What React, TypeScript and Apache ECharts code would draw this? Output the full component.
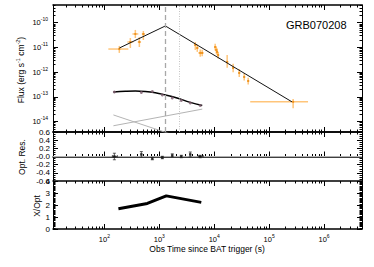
import React, { useEffect, useRef } from 'react';
import * as echarts from 'echarts';

const FONT = '"Liberation Sans", Arial, Helvetica, sans-serif';
const L = Math.log10;

// ---- X-ray (orange) flux points ----
const xrtTime = [187, 297, 366, 433, 512, 4520, 4910, 5560, 6030, 10400, 10900, 11300, 11800, 17200, 22100, 28500, 35100, 41500, 273000];
const xrtFlux = [8.6e-12, 1.66e-11, 3.5e-11, 1.66e-11, 3.5e-11, 1.26e-11, 9.5e-12, 6.0e-12, 6.0e-12, 1.04e-11, 7.9e-12, 6.6e-12, 4.9e-12, 2.6e-12, 1.48e-12, 9.3e-13, 6.4e-13, 4.4e-13, 6.3e-14];
const xrtTimeLo = [118, 262, 324, 405, 480, 4300, 4700, 5120, 5750, 10000, 10500, 10900, 11400, 16500, 21200, 27300, 33700, 39800, 45200];
const xrtTimeHi = [273, 336, 415, 465, 548, 4750, 5150, 6310, 6350, 10800, 11300, 11700, 12200, 18000, 23000, 29700, 36500, 43200, 510000];
const xrtFluxLo = [6.0e-12, 9.5e-12, 2.4e-11, 1.04e-11, 2.0e-11, 7.9e-12, 6.6e-12, 4.2e-12, 4.4e-12, 7.5e-12, 5.6e-12, 4.8e-12, 3.6e-12, 1.5e-12, 1.0e-12, 6.4e-13, 4.6e-13, 3.2e-13, 3.5e-14];
const xrtFluxHi = [1.15e-11, 2.4e-11, 5.1e-11, 2.6e-11, 4.6e-11, 1.66e-11, 1.3e-11, 8.3e-12, 8.0e-12, 1.4e-11, 1.1e-11, 9.0e-12, 6.6e-12, 4.9e-12, 2.2e-12, 1.35e-12, 9.0e-13, 6.0e-13, 8.3e-14];

// ---- Optical points and residuals ----
const optTime = [152, 471, 746, 1135, 1722, 2512, 3660, 5560];
const optFlux = [1.58e-13, 1.51e-13, 1.66e-13, 1.2e-13, 9.1e-14, 7.2e-14, 5.7e-14, 4.5e-14];
const optTimeLo = [140, 471, 746, 1135, 1722, 2512, 3660, 5120];
const optTimeHi = [172, 471, 746, 1135, 1722, 2512, 3660, 6310];
const optResidual = [0.0, 0.05, -0.05, -0.025, 0.025, 0.0, 0.05, 0.0];
const optResErr = [0.08, 0.07, 0.03, 0.03, 0.04, 0.03, 0.06, 0.03];

// ---- Models ----
const xrayModelTime = [188, 1290, 260000];
const xrayModelFlux = [9.5e-12, 7.4e-11, 6.3e-14];
const optModelTime = [146, 241, 366, 556, 845, 1285, 1954, 3660, 6050];
const optModelFlux = [1.58e-13, 1.69e-13, 1.74e-13, 1.66e-13, 1.47e-13, 1.2e-13, 9.5e-14, 6.0e-14, 4.5e-14];
const compDecayTime = [146, 6050];
const compDecayFlux = [1.86e-14, 1.17e-15];
const compRiseTime = [146, 6050];
const compRiseFlux = [6.8e-15, 3.2e-14];

// ---- X/Opt ratio ----
const ratioTime = [180, 605, 1340, 5810];
const ratioValue = [1.69, 2.13, 2.76, 2.22];

// ---- reference lines ----
const peakTime = 1290;
const dottedTime = 2300;

// ---- axes ----
const timeRange = [11.6, 4.9e6];
const fluxRange = [3.8e-15, 5.2e-10];
const xTickExponents = [2, 3, 4, 5, 6];
const yTickExponents = [-14, -13, -12, -11, -10];

const X_MIN = L(timeRange[0]);
const X_MAX = L(timeRange[1]);
const Y_MIN = L(fluxRange[0]);
const Y_MAX = L(fluxRange[1]);

function minorLogs(lo: number, hi: number) {
  const out: number[] = [];
  for (let n = Math.floor(lo) - 1; n <= Math.ceil(hi); n++) {
    for (let k = 2; k <= 9; k++) {
      const v = n + L(k);
      if (v > lo && v < hi) out.push(v);
    }
  }
  return out;
}
const xMinor = minorLogs(X_MIN, X_MAX);
const yMinor = minorLogs(Y_MIN, Y_MAX);

const supRich = {
  b: { fontSize: 7.5, fontFamily: FONT, color: '#000' },
  s: { fontSize: 5, fontFamily: FONT, color: '#000', padding: [0, 0, 7, 0] },
};

const BLACK = '#000';

function xAxesFor(gridIndex: number, labels: boolean) {
  const base: any = { type: 'value', gridIndex, min: X_MIN, max: X_MAX, splitLine: { show: false } };
  const major = (pos: string, withLabel: boolean) => ({
    ...base,
    position: pos,
    axisLine: { show: true, lineStyle: { color: BLACK, width: 1.5 } },
    axisTick: { show: true, inside: true, length: 5, customValues: xTickExponents, lineStyle: { color: BLACK, width: 1 } },
    axisLabel: withLabel
      ? {
          show: true,
          customValues: xTickExponents,
          margin: 4,
          formatter: (v: number) => `{b|10}{s|${Math.round(v)}}`,
          rich: supRich,
        }
      : { show: false },
  });
  const minor = (pos: string) => ({
    ...base,
    position: pos,
    axisLine: { show: false },
    axisTick: { show: true, inside: true, length: 2.5, customValues: xMinor, lineStyle: { color: BLACK, width: 1 } },
    axisLabel: { show: false },
  });
  return [major('bottom', labels), minor('bottom'), major('top', false), minor('top')];
}

function linYAxes(gridIndex: number, min: number, max: number, interval: number, minorSplit: number, fmt: (v: number) => string) {
  const mk = (pos: string, withLabel: boolean) => ({
    type: 'value',
    gridIndex,
    position: pos,
    min,
    max,
    interval,
    splitLine: { show: false },
    axisLine: { show: true, lineStyle: { color: BLACK, width: 1 } },
    axisTick: { show: true, inside: true, length: 5, lineStyle: { color: BLACK } },
    minorTick: { show: true, splitNumber: minorSplit, length: 2.5, lineStyle: { color: BLACK } },
    minorSplitLine: { show: false },
    axisLabel: withLabel
      ? {
          show: true, margin: 3, fontSize: 8, lineHeight: 8, fontFamily: FONT, color: BLACK, formatter: fmt,
          showMinLabel: true, showMaxLabel: true,
        }
      : { show: false },
  });
  return [mk('left', true), mk('right', false)];
}

function logYAxes() {
  const base: any = { type: 'value', gridIndex: 0, min: Y_MIN, max: Y_MAX, splitLine: { show: false } };
  const major = (pos: string, withLabel: boolean) => ({
    ...base,
    position: pos,
    axisLine: { show: true, lineStyle: { color: BLACK, width: 1 } },
    axisTick: { show: true, inside: true, length: 5, customValues: yTickExponents, lineStyle: { color: BLACK } },
    axisLabel: withLabel
      ? {
          show: true,
          customValues: yTickExponents,
          margin: 5,
          formatter: (v: number) => `{b|10}{s|${Math.round(v)}}`,
          rich: supRich,
        }
      : { show: false },
  });
  const minor = (pos: string) => ({
    ...base,
    position: pos,
    axisLine: { show: false },
    axisTick: { show: true, inside: true, length: 2.5, customValues: yMinor, lineStyle: { color: BLACK } },
    axisLabel: { show: false },
  });
  return [major('left', true), minor('left'), major('right', false), minor('right')];
}

function pairs(xs: number[], ys: number[], logY = true) {
  return xs.map((x, i) => [L(x), logY ? L(ys[i]) : ys[i]]);
}

export default function App() {
  const ref = useRef<HTMLDivElement>(null);
  useEffect(() => {
    if (!ref.current) return;
    const chart = echarts.init(ref.current, undefined, { renderer: 'svg' });

    const xrtData = xrtTime.map((t, i) => [L(t), L(xrtFlux[i]), L(xrtTimeLo[i]), L(xrtTimeHi[i]), L(xrtFluxLo[i]), L(xrtFluxHi[i])]);
    const resData = optTime.map((t, i) => [L(t), optResidual[i], optResErr[i], L(optTimeLo[i]), L(optTimeHi[i])]);

    const orange = 'rgba(255,162,40,0.62)';

    const option: any = {
      animation: false,
      backgroundColor: '#fff',
      grid: [
        { left: 53, top: 5, width: 309, height: 127 },
        { left: 53, top: 132, width: 309, height: 49 },
        { left: 53, top: 181, width: 309, height: 48 },
      ],
      xAxis: [...xAxesFor(0, false), ...xAxesFor(1, false), ...xAxesFor(2, true)],
      yAxis: [
        ...logYAxes(),
        ...linYAxes(1, -0.6, 0.6, 0.2, 4, (v: number) => (Math.abs(v) < 1e-9 ? '-0.0' : v.toFixed(1))),
        ...linYAxes(2, 0, 4, 1, 10, (v: number) => String(Math.round(v))),
      ],
      graphic: [
        { type: 'text', x: 286, y: 25, style: { text: 'GRB070208', fontSize: 11, fontFamily: FONT, fill: '#000', verticalAlign: 'middle', align: 'left' } },
        {
          type: 'text', x: 21, y: 70, rotation: Math.PI / 2,
          style: {
            text: '{n|Flux (erg s}{s|-1}{n| cm}{s|-2}{n|)}',
            align: 'center', verticalAlign: 'middle',
            rich: {
              n: { fontSize: 8.5, fontFamily: FONT, fill: '#000' },
              s: { fontSize: 5.5, fontFamily: FONT, fill: '#000', padding: [0, 0, 7, 0] },
            },
          },
        },
        { type: 'text', x: 22, y: 157, rotation: Math.PI / 2, style: { text: 'Opt. Res.', fontSize: 8.5, fontFamily: FONT, fill: '#000', align: 'center', verticalAlign: 'middle' } },
        { type: 'text', x: 37, y: 206, rotation: Math.PI / 2, style: { text: 'X/Opt', fontSize: 8.5, fontFamily: FONT, fill: '#000', align: 'center', verticalAlign: 'middle' } },
        { type: 'text', x: 207, y: 249, style: { text: 'Obs Time since BAT trigger (s)', fontSize: 8.5, fontFamily: FONT, fill: '#000', align: 'center', verticalAlign: 'middle' } },
      ],
      series: [
        {
          type: 'custom', xAxisIndex: 0, yAxisIndex: 0, clip: true, z: 2,
          data: xrtData,
          encode: { x: 0, y: 1 },
          renderItem: (_p: any, api: any) => {
            const x = api.value(0), y = api.value(1);
            const a = api.coord([api.value(2), y]);
            const b = api.coord([api.value(3), y]);
            const c = api.coord([x, api.value(4)]);
            const d = api.coord([x, api.value(5)]);
            const m = api.coord([x, y]);
            const st = { stroke: orange, lineWidth: 1.5 };
            return {
              type: 'group',
              children: [
                { type: 'line', shape: { x1: a[0], y1: a[1], x2: b[0], y2: b[1] }, style: st },
                { type: 'line', shape: { x1: c[0], y1: c[1], x2: d[0], y2: d[1] }, style: st },
                { type: 'rect', shape: { x: m[0] - 1, y: m[1] - 1, width: 2, height: 2 }, style: { fill: 'rgba(235,140,20,0.8)' } },
              ],
            };
          },
        },
        {
          type: 'line', xAxisIndex: 0, yAxisIndex: 0, data: pairs(compDecayTime, compDecayFlux),
          symbol: 'none', lineStyle: { color: '#b4b4b4', width: 1 }, z: 3,
        },
        {
          type: 'line', xAxisIndex: 0, yAxisIndex: 0, data: pairs(compRiseTime, compRiseFlux),
          symbol: 'none', lineStyle: { color: '#b4b4b4', width: 1 }, z: 3,
        },
        {
          type: 'line', xAxisIndex: 0, yAxisIndex: 0, data: pairs(xrayModelTime, xrayModelFlux),
          symbol: 'none', lineStyle: { color: '#111', width: 1 }, z: 4,
          markLine: {
            silent: true, symbol: ['none', 'none'], label: { show: false },
            data: [
              { xAxis: L(peakTime), lineStyle: { type: [5, 3], color: '#a8a8a8', width: 1.3 } },
              { xAxis: L(dottedTime), lineStyle: { type: [1, 1.5], color: '#c4c4c4', width: 1 } },
            ],
          },
        },
        {
          type: 'line', xAxisIndex: 0, yAxisIndex: 0, data: pairs(optModelTime, optModelFlux),
          smooth: 0.4, symbol: 'none', lineStyle: { color: '#000', width: 1.5 }, z: 4,
        },
        {
          type: 'scatter', xAxisIndex: 0, yAxisIndex: 0, data: pairs(optTime, optFlux),
          symbol: 'circle', symbolSize: 3, itemStyle: { color: '#7d5c6e' }, z: 5,
        },
        // residuals
        {
          type: 'custom', xAxisIndex: 4, yAxisIndex: 4, clip: true,
          data: resData, encode: { x: 0, y: 1 },
          renderItem: (_p: any, api: any) => {
            const t = api.value(0), r = api.value(1), e = api.value(2);
            const top = api.coord([t, r + e]);
            const bot = api.coord([t, r - e]);
            const lf = api.coord([api.value(3), r]);
            const rt = api.coord([api.value(4), r]);
            const st = { stroke: '#333', lineWidth: 0.8 };
            const cw = 1.5;
            const children: any[] = [
              { type: 'line', shape: { x1: top[0], y1: top[1], x2: bot[0], y2: bot[1] }, style: st },
              { type: 'line', shape: { x1: top[0] - cw, y1: top[1], x2: top[0] + cw, y2: top[1] }, style: st },
              { type: 'line', shape: { x1: bot[0] - cw, y1: bot[1], x2: bot[0] + cw, y2: bot[1] }, style: st },
            ];
            if (rt[0] - lf[0] > 1) {
              children.push(
                { type: 'line', shape: { x1: lf[0], y1: lf[1], x2: rt[0], y2: rt[1] }, style: st },
                { type: 'line', shape: { x1: lf[0], y1: lf[1] - cw, x2: lf[0], y2: lf[1] + cw }, style: st },
                { type: 'line', shape: { x1: rt[0], y1: rt[1] - cw, x2: rt[0], y2: rt[1] + cw }, style: st },
              );
            }
            return { type: 'group', children };
          },
        },
        {
          type: 'scatter', xAxisIndex: 4, yAxisIndex: 4,
          data: optTime.map((t, i) => [L(t), optResidual[i]]),
          symbol: 'rect', symbolSize: 2.5, itemStyle: { color: '#111' }, z: 5,
          markLine: {
            silent: true, symbol: ['none', 'none'], label: { show: false },
            lineStyle: { color: '#b0b0b0', type: 'solid', width: 1 },
            data: [{ yAxis: 0 }],
            z: 1,
          },
        },
        // ratio
        {
          type: 'line', xAxisIndex: 8, yAxisIndex: 6,
          data: ratioTime.map((t, i) => [L(t), ratioValue[i]]),
          symbol: 'none', lineStyle: { color: '#000', width: 3 },
        },
      ],
    };
    chart.setOption(option);
    return () => chart.dispose();
  }, []);
  return (
    <div
      ref={ref}
      style={{ position: 'fixed', left: 0, top: 0, width: 374, height: 267, background: '#fff' }}
    />
  );
}
